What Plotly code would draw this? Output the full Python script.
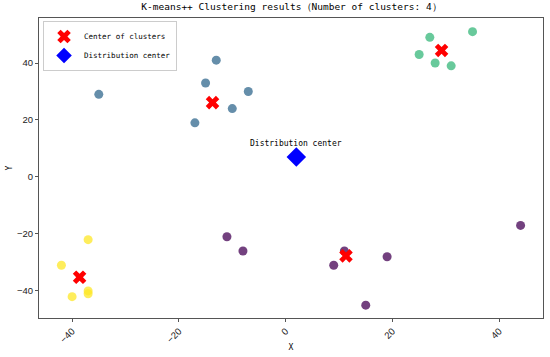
import plotly.graph_objects as go

# Cluster points (x, y) per cluster label
c0_x = [-11, -8, 11, 9, 19, 15, 44]
c0_y = [-21, -26, -26, -31, -28, -45, -17]
c1_x = [-35, -13, -15, -7, -10, -17]
c1_y = [29, 41, 33, 30, 24, 19]
c2_x = [27, 35, 25, 28, 31]
c2_y = [49, 51, 43, 40, 39]
c3_x = [-37, -42, -40, -37, -37]
c3_y = [-22, -31, -42, -40, -41]

cluster_colors = ["#440154", "#31688e", "#35b779", "#fde725"]

center_x = [11.3, -13.7, 29.2, -38.6]
center_y = [-27.7, 26.1, 44.4, -35.2]

dist_x = [2]
dist_y = [7]

title_text = "K-means++ Clustering results（Number of clusters: 4）"
tick_vals = [-40, -20, 0, 20, 40]

mono = "DejaVu Sans Mono"
sans = "Liberation Sans"

fig = go.Figure()
for xs, ys, col in zip([c0_x, c1_x, c2_x, c3_x], [c0_y, c1_y, c2_y, c3_y], cluster_colors):
    fig.add_trace(go.Scatter(x=xs, y=ys, mode="markers", showlegend=False,
                             marker=dict(color=col, size=9, opacity=0.75, line=dict(width=0))))

fig.add_trace(go.Scatter(x=center_x, y=center_y, mode="markers", name="Center of clusters",
                         marker=dict(symbol="x", color="red", size=12, line=dict(width=0))))
fig.add_trace(go.Scatter(x=dist_x, y=dist_y, mode="markers", name="Distribution center",
                         marker=dict(symbol="diamond", color="blue", size=15, line=dict(width=0))))

fig.add_annotation(x=dist_x[0], y=9.6, text="Distribution center", showarrow=False,
                   xanchor="center", yanchor="bottom", font=dict(family=mono, size=8, color="black"))

axis_common = dict(showgrid=False, zeroline=False, showline=True, mirror=True,
                   linecolor="#555555", linewidth=1, ticks="outside", ticklen=3,
                   tickcolor="#555555", tickvals=tick_vals, automargin=False,
                   tickfont=dict(family=sans, size=9.5, color="#222222"))

fig.update_layout(
    width=550, height=357,
    margin=dict(l=39, r=7, t=18, b=39),
    paper_bgcolor="white", plot_bgcolor="white",
    title=dict(text=title_text, x=0.53, xanchor="center", y=0.99, yanchor="top",
               yref="container", automargin=False,
               font=dict(family=mono, size=9.5, color="black")),
    xaxis=dict(range=[-46.2, 48.2], tickangle=-45,
               title=dict(text="X", font=dict(family=mono, size=8, color="black"), standoff=0),
               **axis_common),
    yaxis=dict(range=[-49.5, 55.8],
               title=dict(text="Y", font=dict(family=mono, size=8, color="black"), standoff=3),
               **axis_common),
    legend=dict(x=0.008, y=0.99, xanchor="left", yanchor="top",
                bgcolor="rgba(255,255,255,0.85)", bordercolor="#cccccc", borderwidth=1,
                font=dict(family=mono, size=7.5, color="black"),
                itemsizing="constant", itemwidth=30, tracegroupgap=0),
)

fig.write_html("out.html", config={"displayModeBar": False},
               post_script="document.body.style.margin='0';document.body.style.overflow='hidden';")
